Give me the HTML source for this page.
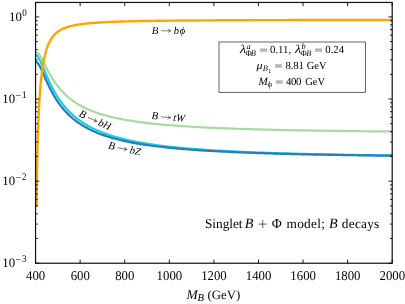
<!DOCTYPE html>
<html><head><meta charset="utf-8"><title>B decays</title>
<style>
html,body{margin:0;padding:0;background:#fff;}
body{width:405px;height:304px;overflow:hidden;font-family:"Liberation Serif",serif;}
svg{display:block;font-family:"Liberation Serif",serif;will-change:transform;text-rendering:geometricPrecision;}
.i{font-style:italic;}
</style></head><body>
<svg width="405" height="304" viewBox="0 0 405 304">
<g fill="none" stroke-linejoin="round" stroke-linecap="butt" stroke-width="2.2">
<path d="M35.55,54.77 L36.05,54.90 L36.56,55.14 L37.10,55.70 L37.60,56.31 L38.10,57.02 L38.60,57.82 L39.10,58.70 L39.60,59.65 L40.00,60.45 L40.40,61.28 L40.80,62.14 L41.20,63.03 L41.60,63.93 L42.00,64.85 L42.40,65.78 L42.80,66.72 L43.20,67.67 L43.60,68.62 L44.00,69.58 L44.40,70.53 L44.80,71.48 L45.50,73.14 L46.00,74.31 L46.50,75.48 L47.00,76.63 L47.50,77.76 L48.00,78.88 L48.50,79.99 L49.00,81.07 L49.50,82.14 L50.00,83.20 L50.50,84.23 L51.00,85.25 L51.50,86.25 L52.00,87.23 L52.50,88.19 L53.00,89.13 L53.50,90.06 L54.00,90.96 L54.50,91.85 L55.00,92.73 L55.50,93.58 L56.00,94.42 L56.50,95.24 L57.00,96.05 L57.50,96.84 L58.00,97.62 L58.50,98.38 L59.00,99.12 L59.50,99.86 L60.00,100.57 L60.50,101.28 L61.00,101.97 L61.50,102.64 L62.00,103.31 L62.50,103.96 L63.00,104.60 L63.50,105.22 L64.00,105.84 L64.50,106.44 L65.00,107.04 L65.50,107.62 L66.00,108.19 L66.50,108.75 L67.00,109.30 L67.50,109.85 L68.00,110.38 L68.50,110.90 L69.00,111.41 L69.50,111.92 L70.00,112.41 L70.50,112.90 L71.00,113.38 L71.50,113.85 L72.00,114.31 L72.50,114.77 L73.00,115.21 L73.50,115.65 L74.00,116.09 L74.50,116.51 L75.00,116.93 L75.50,117.34 L76.00,117.75 L76.50,118.15 L77.00,118.54 L77.50,118.93 L78.00,119.31 L78.50,119.68 L79.00,120.05 L79.50,120.41 L80.00,120.77 L80.50,121.12 L81.00,121.47 L81.50,121.81 L82.00,122.15 L82.50,122.48 L83.00,122.80 L83.50,123.13 L84.00,123.44 L84.50,123.76 L85.00,124.06 L85.50,124.37 L86.00,124.67 L86.50,124.96 L87.00,125.25 L87.50,125.54 L88.00,125.82 L88.50,126.10 L89.00,126.38 L89.50,126.65 L92.00,127.95 L94.00,128.93 L96.00,129.86 L98.00,130.75 L100.00,131.59 L102.00,132.39 L104.00,133.16 L106.00,133.89 L108.00,134.58 L110.00,135.25 L112.00,135.88 L114.00,136.49 L116.00,137.07 L118.00,137.63 L120.00,138.17 L122.00,138.68 L124.00,139.18 L126.00,139.65 L128.00,140.11 L130.00,140.54 L132.00,140.97 L134.00,141.37 L136.00,141.77 L138.00,142.14 L140.00,142.51 L142.00,142.86 L144.00,143.20 L146.00,143.53 L148.00,143.84 L150.00,144.15 L152.00,144.45 L154.00,144.73 L156.00,145.01 L158.00,145.28 L160.00,145.54 L162.00,145.79 L164.00,146.04 L166.00,146.28 L168.00,146.51 L170.00,146.73 L172.00,146.95 L174.00,147.16 L176.00,147.36 L178.00,147.56 L180.00,147.76 L182.00,147.94 L184.00,148.13 L186.00,148.30 L188.00,148.48 L190.00,148.65 L192.00,148.81 L194.00,148.97 L196.00,149.13 L198.00,149.28 L200.00,149.42 L202.00,149.57 L204.00,149.71 L206.00,149.85 L208.00,149.98 L210.00,150.11 L212.00,150.24 L214.00,150.36 L216.00,150.48 L218.00,150.60 L220.00,150.72 L222.00,150.83 L224.00,150.94 L226.00,151.05 L228.00,151.15 L230.00,151.26 L232.00,151.36 L234.00,151.45 L236.00,151.55 L238.00,151.65 L240.00,151.74 L242.00,151.83 L244.00,151.92 L246.00,152.00 L248.00,152.09 L250.00,152.17 L252.00,152.25 L254.00,152.33 L256.00,152.41 L258.00,152.49 L260.00,152.56 L262.00,152.63 L264.00,152.71 L266.00,152.78 L268.00,152.84 L270.00,152.91 L272.00,152.98 L274.00,153.04 L276.00,153.11 L278.00,153.17 L280.00,153.23 L282.00,153.29 L284.00,153.35 L286.00,153.41 L288.00,153.47 L290.00,153.52 L292.00,153.58 L294.00,153.63 L296.00,153.69 L298.00,153.74 L300.00,153.79 L302.00,153.84 L304.00,153.89 L306.00,153.94 L308.00,153.99 L310.00,154.03 L312.00,154.08 L314.00,154.12 L316.00,154.17 L318.00,154.21 L320.00,154.26 L322.00,154.30 L324.00,154.34 L326.00,154.38 L328.00,154.42 L330.00,154.46 L332.00,154.50 L334.00,154.54 L336.00,154.58 L338.00,154.62 L340.00,154.65 L342.00,154.69 L344.00,154.72 L346.00,154.76 L348.00,154.79 L350.00,154.83 L352.00,154.86 L354.00,154.89 L356.00,154.93 L358.00,154.96 L360.00,154.99 L362.00,155.02 L364.00,155.05 L366.00,155.08 L368.00,155.11 L370.00,155.14 L372.00,155.17 L374.00,155.20 L376.00,155.23 L378.00,155.25 L380.00,155.28 L382.00,155.31 L384.00,155.33 L386.00,155.36 L388.00,155.39 L390.00,155.41 L392.00,155.44 L392.20,155.44" stroke="#17d1e2"/>
<path d="M35.55,61.82 L36.05,61.87 L36.56,62.03 L37.10,62.51 L37.60,63.04 L38.10,63.68 L38.60,64.40 L39.10,65.21 L39.60,66.09 L40.10,67.02 L40.60,68.01 L41.00,68.83 L41.40,69.67 L41.80,70.53 L42.20,71.41 L42.60,72.29 L43.00,73.19 L43.40,74.09 L43.80,74.99 L44.20,75.90 L44.60,76.80 L45.00,77.71 L45.50,78.83 L46.00,79.94 L46.50,81.05 L47.00,82.14 L47.50,83.22 L48.00,84.29 L48.50,85.34 L49.00,86.38 L49.50,87.39 L50.00,88.40 L50.50,89.38 L51.00,90.35 L51.50,91.30 L52.00,92.23 L52.50,93.14 L53.00,94.04 L53.50,94.92 L54.00,95.78 L54.50,96.62 L55.00,97.45 L55.50,98.27 L56.00,99.06 L56.50,99.84 L57.00,100.61 L57.50,101.36 L58.00,102.09 L58.50,102.81 L59.00,103.52 L59.50,104.21 L60.00,104.89 L60.50,105.55 L61.00,106.21 L61.50,106.85 L62.00,107.47 L62.50,108.09 L63.00,108.69 L63.50,109.29 L64.00,109.87 L64.50,110.44 L65.00,111.00 L65.50,111.54 L66.00,112.08 L66.50,112.61 L67.00,113.13 L67.50,113.64 L68.00,114.14 L68.50,114.63 L69.00,115.11 L69.50,115.59 L70.00,116.05 L70.50,116.51 L71.00,116.96 L71.50,117.40 L72.00,117.84 L72.50,118.26 L73.00,118.68 L73.50,119.10 L74.00,119.50 L74.50,119.90 L75.00,120.29 L75.50,120.68 L76.00,121.06 L76.50,121.43 L77.00,121.80 L77.50,122.16 L78.00,122.52 L78.50,122.87 L79.00,123.21 L79.50,123.55 L80.00,123.88 L80.50,124.21 L81.00,124.54 L81.50,124.86 L82.00,125.17 L82.50,125.48 L83.00,125.78 L83.50,126.08 L84.00,126.38 L84.50,126.67 L85.00,126.96 L85.50,127.24 L86.00,127.52 L86.50,127.79 L87.00,128.06 L87.50,128.33 L88.00,128.59 L88.50,128.85 L89.00,129.11 L89.50,129.36 L92.00,130.57 L94.00,131.48 L96.00,132.35 L98.00,133.17 L100.00,133.95 L102.00,134.69 L104.00,135.39 L106.00,136.07 L108.00,136.71 L110.00,137.32 L112.00,137.91 L114.00,138.47 L116.00,139.00 L118.00,139.52 L120.00,140.01 L122.00,140.48 L124.00,140.93 L126.00,141.37 L128.00,141.79 L130.00,142.19 L132.00,142.58 L134.00,142.95 L136.00,143.31 L138.00,143.65 L140.00,143.99 L142.00,144.31 L144.00,144.62 L146.00,144.92 L148.00,145.21 L150.00,145.49 L152.00,145.76 L154.00,146.02 L156.00,146.27 L158.00,146.52 L160.00,146.76 L162.00,146.99 L164.00,147.21 L166.00,147.43 L168.00,147.64 L170.00,147.84 L172.00,148.04 L174.00,148.23 L176.00,148.42 L178.00,148.60 L180.00,148.77 L182.00,148.94 L184.00,149.11 L186.00,149.27 L188.00,149.43 L190.00,149.58 L192.00,149.73 L194.00,149.87 L196.00,150.02 L198.00,150.15 L200.00,150.29 L202.00,150.42 L204.00,150.54 L206.00,150.67 L208.00,150.79 L210.00,150.91 L212.00,151.02 L214.00,151.14 L216.00,151.24 L218.00,151.35 L220.00,151.46 L222.00,151.56 L224.00,151.66 L226.00,151.76 L228.00,151.85 L230.00,151.94 L232.00,152.04 L234.00,152.12 L236.00,152.21 L238.00,152.30 L240.00,152.38 L242.00,152.46 L244.00,152.54 L246.00,152.62 L248.00,152.70 L250.00,152.77 L252.00,152.84 L254.00,152.92 L256.00,152.99 L258.00,153.06 L260.00,153.12 L262.00,153.19 L264.00,153.25 L266.00,153.32 L268.00,153.38 L270.00,153.44 L272.00,153.50 L274.00,153.56 L276.00,153.62 L278.00,153.67 L280.00,153.73 L282.00,153.78 L284.00,153.84 L286.00,153.89 L288.00,153.94 L290.00,153.99 L292.00,154.04 L294.00,154.09 L296.00,154.14 L298.00,154.19 L300.00,154.23 L302.00,154.28 L304.00,154.32 L306.00,154.37 L308.00,154.41 L310.00,154.45 L312.00,154.49 L314.00,154.53 L316.00,154.57 L318.00,154.61 L320.00,154.65 L322.00,154.69 L324.00,154.73 L326.00,154.77 L328.00,154.80 L330.00,154.84 L332.00,154.87 L334.00,154.91 L336.00,154.94 L338.00,154.98 L340.00,155.01 L342.00,155.04 L344.00,155.07 L346.00,155.11 L348.00,155.14 L350.00,155.17 L352.00,155.20 L354.00,155.23 L356.00,155.26 L358.00,155.29 L360.00,155.31 L362.00,155.34 L364.00,155.37 L366.00,155.40 L368.00,155.42 L370.00,155.45 L372.00,155.48 L374.00,155.50 L376.00,155.53 L378.00,155.55 L380.00,155.58 L382.00,155.60 L384.00,155.62 L386.00,155.65 L388.00,155.67 L390.00,155.69 L392.00,155.72 L392.20,155.72" stroke="#2b7bba"/>
<path d="M35.55,52.34 L36.05,52.18 L36.56,52.14 L37.10,52.42 L37.60,52.76 L38.10,53.21 L38.60,53.76 L39.10,54.39 L39.60,55.09 L40.10,55.86 L40.60,56.68 L41.10,57.54 L41.60,58.44 L42.10,59.37 L42.60,60.33 L43.10,61.29 L43.60,62.27 L44.10,63.26 L44.60,64.25 L45.50,66.02 L46.00,67.00 L46.50,67.97 L47.00,68.94 L47.50,69.89 L48.00,70.83 L48.50,71.76 L49.00,72.67 L49.50,73.57 L50.00,74.45 L50.50,75.32 L51.00,76.17 L51.50,77.01 L52.00,77.83 L52.50,78.64 L53.00,79.43 L53.50,80.20 L54.00,80.96 L54.50,81.70 L55.00,82.43 L55.50,83.15 L56.00,83.84 L56.50,84.53 L57.00,85.20 L57.50,85.86 L58.00,86.50 L58.50,87.13 L59.00,87.75 L59.50,88.36 L60.00,88.95 L60.50,89.53 L61.00,90.10 L61.50,90.66 L62.00,91.21 L62.50,91.74 L63.00,92.27 L63.50,92.78 L64.00,93.29 L64.50,93.78 L65.00,94.27 L65.50,94.74 L66.00,95.21 L66.50,95.67 L67.00,96.12 L67.50,96.56 L68.00,96.99 L68.50,97.42 L69.00,97.83 L69.50,98.24 L70.00,98.64 L70.50,99.04 L71.00,99.42 L71.50,99.80 L72.00,100.18 L72.50,100.54 L73.00,100.90 L73.50,101.26 L74.00,101.61 L74.50,101.95 L75.00,102.28 L75.50,102.61 L76.00,102.94 L76.50,103.26 L77.00,103.57 L77.50,103.88 L78.00,104.18 L78.50,104.48 L79.00,104.78 L79.50,105.06 L80.00,105.35 L80.50,105.63 L81.00,105.90 L81.50,106.17 L82.00,106.44 L82.50,106.70 L83.00,106.96 L83.50,107.22 L84.00,107.47 L84.50,107.71 L85.00,107.96 L85.50,108.20 L86.00,108.43 L86.50,108.66 L87.00,108.89 L87.50,109.12 L88.00,109.34 L88.50,109.56 L89.00,109.77 L89.50,109.99 L92.00,111.00 L94.00,111.77 L96.00,112.49 L98.00,113.18 L100.00,113.83 L102.00,114.45 L104.00,115.04 L106.00,115.60 L108.00,116.13 L110.00,116.64 L112.00,117.12 L114.00,117.59 L116.00,118.03 L118.00,118.45 L120.00,118.86 L122.00,119.25 L124.00,119.62 L126.00,119.98 L128.00,120.32 L130.00,120.65 L132.00,120.96 L134.00,121.27 L136.00,121.56 L138.00,121.84 L140.00,122.12 L142.00,122.38 L144.00,122.63 L146.00,122.87 L148.00,123.11 L150.00,123.34 L152.00,123.56 L154.00,123.77 L156.00,123.97 L158.00,124.17 L160.00,124.37 L162.00,124.55 L164.00,124.73 L166.00,124.91 L168.00,125.08 L170.00,125.24 L172.00,125.40 L174.00,125.55 L176.00,125.70 L178.00,125.85 L180.00,125.99 L182.00,126.13 L184.00,126.26 L186.00,126.39 L188.00,126.52 L190.00,126.64 L192.00,126.76 L194.00,126.88 L196.00,126.99 L198.00,127.10 L200.00,127.21 L202.00,127.31 L204.00,127.41 L206.00,127.51 L208.00,127.61 L210.00,127.70 L212.00,127.80 L214.00,127.89 L216.00,127.97 L218.00,128.06 L220.00,128.14 L222.00,128.22 L224.00,128.30 L226.00,128.38 L228.00,128.46 L230.00,128.53 L232.00,128.61 L234.00,128.68 L236.00,128.75 L238.00,128.81 L240.00,128.88 L242.00,128.94 L244.00,129.01 L246.00,129.07 L248.00,129.13 L250.00,129.19 L252.00,129.25 L254.00,129.31 L256.00,129.36 L258.00,129.42 L260.00,129.47 L262.00,129.52 L264.00,129.57 L266.00,129.63 L268.00,129.67 L270.00,129.72 L272.00,129.77 L274.00,129.82 L276.00,129.86 L278.00,129.91 L280.00,129.95 L282.00,130.00 L284.00,130.04 L286.00,130.08 L288.00,130.12 L290.00,130.16 L292.00,130.20 L294.00,130.24 L296.00,130.28 L298.00,130.31 L300.00,130.35 L302.00,130.39 L304.00,130.42 L306.00,130.46 L308.00,130.49 L310.00,130.52 L312.00,130.56 L314.00,130.59 L316.00,130.62 L318.00,130.65 L320.00,130.68 L322.00,130.71 L324.00,130.74 L326.00,130.77 L328.00,130.80 L330.00,130.83 L332.00,130.86 L334.00,130.89 L336.00,130.91 L338.00,130.94 L340.00,130.96 L342.00,130.99 L344.00,131.02 L346.00,131.04 L348.00,131.07 L350.00,131.09 L352.00,131.11 L354.00,131.14 L356.00,131.16 L358.00,131.18 L360.00,131.20 L362.00,131.23 L364.00,131.25 L366.00,131.27 L368.00,131.29 L370.00,131.31 L372.00,131.33 L374.00,131.35 L376.00,131.37 L378.00,131.39 L380.00,131.41 L382.00,131.43 L384.00,131.45 L386.00,131.47 L388.00,131.49 L390.00,131.50 L392.00,131.52 L392.20,131.52" stroke="#a5dba0"/>
<path d="M36.63,206.68 L36.64,205.46 L36.65,204.27 L36.66,203.14 L36.67,202.04 L36.67,200.97 L36.68,199.94 L36.69,198.94 L36.70,197.97 L36.71,197.03 L36.71,196.11 L36.72,195.21 L36.73,194.33 L36.74,193.48 L36.75,192.64 L36.75,191.82 L36.76,191.02 L36.77,189.85 L36.79,188.72 L36.80,187.61 L36.81,186.54 L36.82,185.49 L36.83,184.47 L36.85,183.47 L36.86,182.49 L36.87,181.54 L36.88,180.61 L36.89,179.69 L36.91,178.80 L36.92,177.92 L36.93,177.06 L36.94,176.22 L36.95,175.39 L36.97,174.58 L36.98,173.78 L36.99,172.73 L37.10,166.32 L37.20,160.95 L37.30,156.10 L37.40,151.65 L37.50,147.55 L37.60,143.74 L37.70,140.18 L37.80,136.84 L37.90,133.70 L38.00,130.73 L38.10,127.91 L38.20,125.24 L38.30,122.70 L38.40,120.27 L38.50,117.95 L38.60,115.73 L38.70,113.60 L38.80,111.56 L38.90,109.60 L39.00,107.71 L39.10,105.90 L39.20,104.15 L39.30,102.46 L39.40,100.83 L39.50,99.25 L39.60,97.73 L39.70,96.25 L39.80,94.82 L39.90,93.44 L40.00,92.10 L40.10,90.80 L40.20,89.54 L40.30,88.32 L40.40,87.13 L40.50,85.97 L40.60,84.85 L40.70,83.76 L40.80,82.69 L40.90,81.66 L41.00,80.65 L41.10,79.67 L41.20,78.71 L41.30,77.78 L41.40,76.88 L41.50,75.99 L41.60,75.13 L41.70,74.29 L41.80,73.46 L41.90,72.66 L42.10,71.11 L42.30,69.64 L42.50,68.23 L42.70,66.88 L42.90,65.59 L43.10,64.35 L43.30,63.17 L43.50,62.03 L43.70,60.95 L43.90,59.90 L44.10,58.90 L44.30,57.93 L44.50,57.00 L44.70,56.11 L44.90,55.25 L45.50,52.86 L46.00,51.05 L46.50,49.40 L47.00,47.88 L47.50,46.48 L48.00,45.19 L48.50,44.00 L49.00,42.89 L49.50,41.86 L50.00,40.91 L50.50,40.01 L51.00,39.18 L51.50,38.40 L52.00,37.67 L52.50,36.99 L53.00,36.35 L53.50,35.74 L54.00,35.18 L54.50,34.64 L55.00,34.13 L55.50,33.65 L56.00,33.20 L56.50,32.77 L57.00,32.36 L57.50,31.98 L58.00,31.61 L58.50,31.26 L59.00,30.93 L59.50,30.61 L60.00,30.31 L60.50,30.02 L61.00,29.74 L61.50,29.48 L62.00,29.23 L62.50,28.99 L63.00,28.76 L63.50,28.53 L64.00,28.32 L64.50,28.12 L65.00,27.92 L65.50,27.73 L66.00,27.55 L66.50,27.37 L67.00,27.21 L67.50,27.04 L68.00,26.89 L68.50,26.74 L69.00,26.59 L69.50,26.45 L70.00,26.31 L70.50,26.18 L71.00,26.06 L71.50,25.93 L72.00,25.81 L72.50,25.70 L73.00,25.59 L73.50,25.48 L74.00,25.37 L74.50,25.27 L75.00,25.17 L75.50,25.08 L76.00,24.99 L76.50,24.90 L77.00,24.81 L77.50,24.72 L78.00,24.64 L78.50,24.56 L79.00,24.48 L79.50,24.41 L80.00,24.33 L80.50,24.26 L81.00,24.19 L81.50,24.12 L82.00,24.05 L82.50,23.99 L83.00,23.93 L83.50,23.86 L84.00,23.80 L84.50,23.74 L85.00,23.69 L85.50,23.63 L86.00,23.58 L86.50,23.52 L87.00,23.47 L87.50,23.42 L88.00,23.37 L88.50,23.32 L89.00,23.27 L89.50,23.23 L92.00,23.01 L94.00,22.85 L96.00,22.70 L98.00,22.57 L100.00,22.44 L102.00,22.33 L104.00,22.22 L106.00,22.12 L108.00,22.02 L110.00,21.93 L112.00,21.85 L114.00,21.77 L116.00,21.70 L118.00,21.63 L120.00,21.57 L122.00,21.50 L124.00,21.45 L126.00,21.39 L128.00,21.34 L130.00,21.29 L132.00,21.24 L134.00,21.20 L136.00,21.15 L138.00,21.11 L140.00,21.07 L142.00,21.04 L144.00,21.00 L146.00,20.97 L148.00,20.93 L150.00,20.90 L152.00,20.87 L154.00,20.84 L156.00,20.82 L158.00,20.79 L160.00,20.77 L162.00,20.74 L164.00,20.72 L166.00,20.69 L168.00,20.67 L170.00,20.65 L172.00,20.63 L174.00,20.61 L176.00,20.59 L178.00,20.57 L180.00,20.56 L182.00,20.54 L184.00,20.52 L186.00,20.51 L188.00,20.49 L190.00,20.48 L192.00,20.46 L194.00,20.45 L196.00,20.43 L198.00,20.42 L200.00,20.41 L202.00,20.40 L204.00,20.38 L206.00,20.37 L208.00,20.36 L210.00,20.35 L212.00,20.34 L214.00,20.33 L216.00,20.32 L218.00,20.31 L220.00,20.30 L222.00,20.29 L224.00,20.28 L226.00,20.27 L228.00,20.26 L230.00,20.25 L232.00,20.24 L234.00,20.24 L236.00,20.23 L238.00,20.22 L240.00,20.21 L242.00,20.21 L244.00,20.20 L246.00,20.19 L248.00,20.19 L250.00,20.18 L252.00,20.17 L254.00,20.17 L256.00,20.16 L258.00,20.15 L260.00,20.15 L262.00,20.14 L264.00,20.14 L266.00,20.13 L268.00,20.12 L270.00,20.12 L272.00,20.11 L274.00,20.11 L276.00,20.10 L278.00,20.10 L280.00,20.09 L282.00,20.09 L284.00,20.09 L286.00,20.08 L288.00,20.08 L290.00,20.07 L292.00,20.07 L294.00,20.06 L296.00,20.06 L298.00,20.06 L300.00,20.05 L302.00,20.05 L304.00,20.04 L306.00,20.04 L308.00,20.04 L310.00,20.03 L312.00,20.03 L314.00,20.03 L316.00,20.02 L318.00,20.02 L320.00,20.02 L322.00,20.01 L324.00,20.01 L326.00,20.01 L328.00,20.00 L330.00,20.00 L332.00,20.00 L334.00,19.99 L336.00,19.99 L338.00,19.99 L340.00,19.99 L342.00,19.98 L344.00,19.98 L346.00,19.98 L348.00,19.98 L350.00,19.97 L352.00,19.97 L354.00,19.97 L356.00,19.97 L358.00,19.96 L360.00,19.96 L362.00,19.96 L364.00,19.96 L366.00,19.95 L368.00,19.95 L370.00,19.95 L372.00,19.95 L374.00,19.95 L376.00,19.94 L378.00,19.94 L380.00,19.94 L382.00,19.94 L384.00,19.94 L386.00,19.93 L388.00,19.93 L390.00,19.93 L392.00,19.93 L392.20,19.93" stroke="#ffa500" stroke-width="2.4"/>
</g>
<rect x="35.55" y="2.45" width="356.65" height="260.80" fill="none" stroke="#111" stroke-width="1.2"/>
<path d="M35.55,263.25 v-3.7 M35.55,2.45 v3.7 M80.13,263.25 v-3.7 M80.13,2.45 v3.7 M124.71,263.25 v-3.7 M124.71,2.45 v3.7 M169.29,263.25 v-3.7 M169.29,2.45 v3.7 M213.88,263.25 v-3.7 M213.88,2.45 v3.7 M258.46,263.25 v-3.7 M258.46,2.45 v3.7 M303.04,263.25 v-3.7 M303.04,2.45 v3.7 M347.62,263.25 v-3.7 M347.62,2.45 v3.7 M392.20,263.25 v-3.7 M392.20,2.45 v3.7 M35.55,263.25 h3.7 M392.2,263.25 h-3.7 M35.55,238.53 h2.2 M392.2,238.53 h-2.2 M35.55,224.07 h2.2 M392.2,224.07 h-2.2 M35.55,213.81 h2.2 M392.2,213.81 h-2.2 M35.55,205.86 h2.2 M392.2,205.86 h-2.2 M35.55,199.35 h2.2 M392.2,199.35 h-2.2 M35.55,193.86 h2.2 M392.2,193.86 h-2.2 M35.55,189.09 h2.2 M392.2,189.09 h-2.2 M35.55,184.89 h2.2 M392.2,184.89 h-2.2 M35.55,181.14 h3.7 M392.2,181.14 h-3.7 M35.55,156.42 h2.2 M392.2,156.42 h-2.2 M35.55,141.96 h2.2 M392.2,141.96 h-2.2 M35.55,131.70 h2.2 M392.2,131.70 h-2.2 M35.55,123.74 h2.2 M392.2,123.74 h-2.2 M35.55,117.24 h2.2 M392.2,117.24 h-2.2 M35.55,111.74 h2.2 M392.2,111.74 h-2.2 M35.55,106.98 h2.2 M392.2,106.98 h-2.2 M35.55,102.78 h2.2 M392.2,102.78 h-2.2 M35.55,99.02 h3.7 M392.2,99.02 h-3.7 M35.55,74.30 h2.2 M392.2,74.30 h-2.2 M35.55,59.84 h2.2 M392.2,59.84 h-2.2 M35.55,49.59 h2.2 M392.2,49.59 h-2.2 M35.55,41.63 h2.2 M392.2,41.63 h-2.2 M35.55,35.13 h2.2 M392.2,35.13 h-2.2 M35.55,29.63 h2.2 M392.2,29.63 h-2.2 M35.55,24.87 h2.2 M392.2,24.87 h-2.2 M35.55,20.67 h2.2 M392.2,20.67 h-2.2 M35.55,16.91 h3.7 M392.2,16.91 h-3.7" stroke="#000" stroke-width="0.9" fill="none"/>
<g font-size="12.8" fill="#000"><text transform="translate(35.65,279.8) scale(1,1.05)" text-anchor="middle">400</text><text transform="translate(80.23,279.8) scale(1,1.05)" text-anchor="middle">600</text><text transform="translate(124.81,279.8) scale(1,1.05)" text-anchor="middle">800</text><text transform="translate(169.39,279.8) scale(1,1.05)" text-anchor="middle">1000</text><text transform="translate(213.97,279.8) scale(1,1.05)" text-anchor="middle">1200</text><text transform="translate(258.56,279.8) scale(1,1.05)" text-anchor="middle">1400</text><text transform="translate(303.14,279.8) scale(1,1.05)" text-anchor="middle">1600</text><text transform="translate(347.72,279.8) scale(1,1.05)" text-anchor="middle">1800</text><text transform="translate(392.30,279.8) scale(1,1.05)" text-anchor="middle">2000</text><text x="2.3" y="266.95">10</text><text transform="translate(15.3,262.75) scale(1,1.14)" font-size="9.0" textLength="5.9" lengthAdjust="spacingAndGlyphs">−</text><text transform="translate(21.9,261.85) scale(1,1.14)" font-size="9.0" >3</text><text x="2.3" y="184.84">10</text><text transform="translate(15.3,180.64) scale(1,1.14)" font-size="9.0" textLength="5.9" lengthAdjust="spacingAndGlyphs">−</text><text transform="translate(21.9,179.74) scale(1,1.14)" font-size="9.0" >2</text><text x="2.3" y="102.72">10</text><text transform="translate(15.3,98.52) scale(1,1.14)" font-size="9.0" textLength="5.9" lengthAdjust="spacingAndGlyphs">−</text><text transform="translate(21.9,97.62) scale(1,1.14)" font-size="9.0" >1</text><text x="9.1" y="20.61">10</text><text transform="translate(22.2,15.51) scale(1,1.14)" font-size="9.0" >0</text>
<text x="186.5" y="299.1" class="i" font-size="13.5">M</text><text x="197.4" y="301.4" class="i" font-size="10.6">B</text><text x="207.6" y="298.8">(GeV)</text>
</g>
<g font-size="10.5" fill="#000" class="i">
<g transform="translate(151.8,33.7)"><text x="0" y="0" font-size="10.9">B</text><path d="M9.3,-2.9 h9.5 M16.30,-4.9 q0.8,1.65 2.6,2 q-1.8,0.35 -2.6,2" fill="none" stroke="#000" stroke-width="0.5"/><text x="21.9" y="0">b<tspan dx="0.8">ϕ</tspan></text></g>
<g transform="translate(151.3,118.9) rotate(4.9)"><text x="0" y="0" font-size="10.9">B</text><path d="M9.5,-2.9 h9.5 M16.50,-4.9 q0.8,1.65 2.6,2 q-1.8,0.35 -2.6,2" fill="none" stroke="#000" stroke-width="0.5"/><text x="21.9" y="0">tW</text></g>
<g transform="translate(78.3,116.0) rotate(24.9)"><text x="0" y="0" font-size="10.9">B</text><path d="M9.5,-2.9 h9.5 M16.50,-4.9 q0.8,1.65 2.6,2 q-1.8,0.35 -2.6,2" fill="none" stroke="#000" stroke-width="0.5"/><text x="21.1" y="0">bH</text></g>
<g transform="translate(107.7,148.4) rotate(12.3)"><text x="0" y="0" font-size="10.9">B</text><path d="M9.5,-2.9 h9.5 M16.50,-4.9 q0.8,1.65 2.6,2 q-1.8,0.35 -2.6,2" fill="none" stroke="#000" stroke-width="0.5"/><text x="22.0" y="0">bZ</text></g>
</g>
<rect x="219" y="42" width="146.5" height="50.3" fill="#fff" stroke="#222" stroke-width="0.7"/>
<g font-size="10.8" fill="#000">
<text transform="translate(239.9,52.8) scale(1.18,1)" class="i" font-size="11.8">λ</text><text x="246.5" y="48.9" class="i" font-size="8.2">a</text><text x="245.4" y="56.1" font-size="8.5">Φ</text><text x="250.7" y="56.1" font-size="8.5" class="i">B</text><path d="M260.0,49.20H267.3M260.0,51.05H267.3" stroke="#000" stroke-width="0.5" fill="none"/><text x="270.0" y="52.8" textLength="21.1" lengthAdjust="spacing">0.11,</text>
<text transform="translate(295.0,52.8) scale(1.18,1)" class="i" font-size="11.8">λ</text><text x="301.6" y="48.9" class="i" font-size="8.2">b</text><text x="300.4" y="56.1" font-size="8.5">Φ</text><text x="306.3" y="56.1" font-size="8.5" class="i">B</text><path d="M315.1,49.20H322.1M315.1,51.05H322.1" stroke="#000" stroke-width="0.5" fill="none"/><text x="325.3" y="52.8" textLength="18.8" lengthAdjust="spacing">0.24</text>
<text transform="translate(256.6,68.6) scale(1.1,1)" class="i" font-size="10.9">μ</text><text x="262.7" y="70.8" class="i" font-size="8.5">B</text><text x="268.3" y="72.6" font-size="6">1</text><path d="M275.1,65.00H281.9M275.1,66.85H281.9" stroke="#000" stroke-width="0.5" fill="none"/><text x="285.4" y="68.6" textLength="18.4" lengthAdjust="spacing">8.81</text><text x="306.8" y="68.6" textLength="19.7" lengthAdjust="spacingAndGlyphs">GeV</text>
<text x="258.5" y="84.7" class="i" font-size="11.2">M</text><text x="267.4" y="87.3" font-size="8.6">ϕ</text><path d="M275.8,81.10H282.8M275.8,82.95H282.8" stroke="#000" stroke-width="0.5" fill="none"/><text x="285.9" y="84.7" textLength="15.6" lengthAdjust="spacing">400</text><text x="305.3" y="84.7" textLength="19.7" lengthAdjust="spacingAndGlyphs">GeV</text>
</g>
<g font-size="13.3" fill="#000">
<text x="204.9" y="227.8">Singlet</text><text x="244.8" y="227.8" class="i" font-size="14.2">B</text><path d="M258.6,224.1H266.9M262.75,219.95V228.25" stroke="#000" stroke-width="0.6" fill="none"/><text x="271.8" y="227.8" font-size="13.7">Φ</text><text x="286.5" y="227.8" textLength="38.4" lengthAdjust="spacing">model;</text><text x="329.0" y="227.8" class="i" font-size="14.2">B</text><text x="341.8" y="227.8" textLength="37.5" lengthAdjust="spacing">decays</text>
</g>
</svg>
</body></html>
